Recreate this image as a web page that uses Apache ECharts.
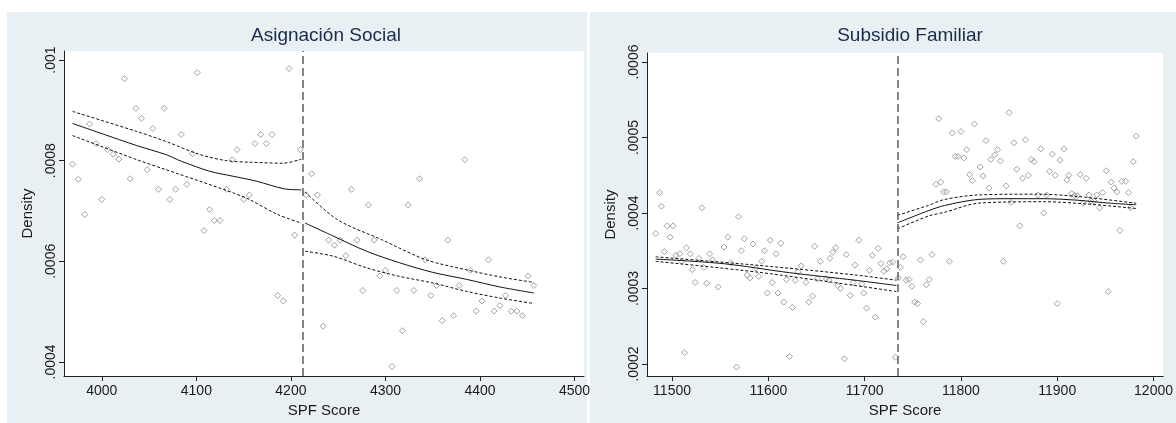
<!DOCTYPE html>
<html><head><meta charset="utf-8">
<script src="https://cdn.jsdelivr.net/npm/echarts@6/dist/echarts.min.js"></script>
<style>html,body{margin:0;padding:0;background:#fff}#c{width:1176px;height:423px}</style>
</head><body><div id="c"></div>
<script>
// ---------- Asignación Social ----------
const asTitle = 'Asignación Social';
const asCutoff = 4213;
const asXTicks = [4000, 4100, 4200, 4300, 4400, 4500];
const asYTicks = [0.0004, 0.0006, 0.0008, 0.001];
const asPoints = [[3969,0.000793],[3975,0.000763],[3982,0.000693],[3987,0.000873],[3994,0.000834],[4000,0.000723],[4006,0.000822],[4012,0.000813],[4018,0.000803],[4024,0.000963],[4030,0.000764],[4036,0.000904],[4042,0.000884],[4048,0.000782],[4054,0.000864],[4060,0.000743],[4066,0.000904],[4072,0.000723],[4078,0.000743],[4084,0.000852],[4090,0.000753],[4096,0.000814],[4101,0.000975],[4108,0.000661],[4114,0.000703],[4119,0.000681],[4125,0.000681],[4132,0.000743],[4138,0.000802],[4143,0.000822],[4150,0.000723],[4156,0.000732],[4162,0.000834],[4168,0.000852],[4174,0.000834],[4180,0.000852],[4186,0.000532],[4192,0.000521],[4198,0.000983],[4204,0.000652],[4210,0.000822],
[4216,0.000732],[4222,0.000774],[4228,0.000732],[4234,0.000471],[4240,0.000642],[4246,0.000632],[4252,0.000642],[4258,0.000611],[4264,0.000743],[4270,0.000642],[4276,0.000542],[4282,0.000712],[4288,0.000642],[4294,0.000571],[4300,0.000582],[4307,0.000391],[4312,0.000542],[4318,0.000462],[4324,0.000712],[4330,0.000542],[4336,0.000764],[4342,0.000603],[4348,0.000532],[4354,0.000552],[4360,0.000482],[4366,0.000642],[4372,0.000492],[4378,0.000552],[4384,0.000802],[4390,0.000582],[4396,0.000501],[4402,0.000521],[4409,0.000603],[4415,0.000501],[4421,0.000512],[4427,0.000532],[4433,0.000501],[4439,0.000501],[4445,0.000492],[4451,0.000571],[4457,0.000552]];
const asFitL = [[3969,0.000874],[4037,0.00083],[4068,0.000812],[4084,0.000799],[4114,0.000779],[4139,0.000769],[4164,0.000759],[4193,0.000744],[4211,0.000742]];
const asFitR = [[4215,0.000676],[4245,0.00065],[4280,0.00062],[4315,0.000597],[4350,0.000578],[4386,0.000564],[4421,0.000549],[4457,0.000537]];
const asUpL = [[3969,0.000898],[4037,0.000858],[4068,0.000838],[4104,0.000812],[4132,0.0008],[4156,0.000797],[4192,0.000795],[4211,0.000803]];
const asUpR = [[4215,0.000738],[4249,0.000683],[4296,0.000643],[4343,0.000603],[4386,0.000583],[4421,0.000569],[4457,0.000558]];
const asLoL = [[3969,0.00085],[4037,0.000802],[4068,0.000782],[4104,0.000759],[4139,0.000736],[4156,0.000723],[4186,0.000693],[4211,0.000676]];
const asLoR = [[4215,0.00062],[4245,0.00061],[4280,0.000587],[4315,0.00057],[4350,0.000557],[4386,0.00054],[4421,0.000527],[4457,0.000516]];

// ---------- Subsidio Familiar ----------
const sfTitle = 'Subsidio Familiar';
const sfCutoff = 11734;
const sfXTicks = [11500, 11600, 11700, 11800, 11900, 12000];
const sfYTicks = [0.0002, 0.0003, 0.0004, 0.0005, 0.0006];
const sfPoints = [[11483,0.000373],[11487,0.000427],[11489,0.000409],[11492,0.000349],[11495,0.000383],[11498,0.000368],[11501,0.000383],[11504,0.000344],[11508,0.000346],[11510,0.000336],[11513,0.000215],[11515,0.000354],[11519,0.000346],[11521,0.000325],[11524,0.000308],[11528,0.00034],[11531,0.000407],[11533,0.000328],[11536,0.000307],[11539,0.000346],[11542,0.000338],[11548,0.000302],[11554,0.000355],[11558,0.000368],[11561,0.000334],[11567,0.000196],[11569,0.000395],[11572,0.00035],[11575,0.000366],[11578,0.000318],[11581,0.000314],[11584,0.000359],[11587,0.000327],[11590,0.000316],[11593,0.000336],[11596,0.00035],[11599,0.000294],[11602,0.000364],[11604,0.000308],[11608,0.000346],[11610,0.000294],[11613,0.00036],[11616,0.000282],[11619,0.000312],[11622,0.00021],[11625,0.000275],[11628,0.000311],[11631,0.000322],[11634,0.00033],[11639,0.000308],[11642,0.000282],[11646,0.00029],[11648,0.000356],[11651,0.000313],[11654,0.000336],[11660,0.000313],[11663,0.000311],[11664,0.00034],[11667,0.000348],[11670,0.000354],[11672,0.000304],[11675,0.0003],[11679,0.000207],[11681,0.000345],[11685,0.000291],[11688,0.000308],[11690,0.000331],[11694,0.000364],[11697,0.000306],[11699,0.000294],[11702,0.000274],[11705,0.000324],[11708,0.000344],[11711,0.000262],[11714,0.000353],[11717,0.000333],[11720,0.000323],[11723,0.000326],[11726,0.000334],[11729,0.000335],[11732,0.000209],
[11735,0.000314],[11737,0.000328],[11740,0.000342],[11743,0.000311],[11746,0.000312],[11749,0.000303],[11752,0.000282],[11755,0.00028],[11758,0.000338],[11761,0.000256],[11764,0.000305],[11767,0.000312],[11770,0.000345],[11774,0.000438],[11777,0.000525],[11779,0.000441],[11782,0.000428],[11785,0.000428],[11788,0.000336],[11791,0.000506],[11794,0.000475],[11797,0.000475],[11800,0.000508],[11803,0.000473],[11806,0.000484],[11809,0.000451],[11812,0.000443],[11814,0.000518],[11820,0.000461],[11823,0.000449],[11826,0.000496],[11829,0.000433],[11831,0.000471],[11835,0.000477],[11838,0.000484],[11841,0.000469],[11844,0.000336],[11847,0.000436],[11850,0.000533],[11852,0.000414],[11855,0.000493],[11858,0.000458],[11861,0.000383],[11864,0.000446],[11867,0.000497],[11870,0.00045],[11873,0.000471],[11876,0.000468],[11880,0.000424],[11883,0.000485],[11886,0.0004],[11889,0.000424],[11892,0.000455],[11895,0.000478],[11898,0.00045],[11900,0.00028],[11903,0.00047],[11907,0.000485],[11910,0.000444],[11912,0.00045],[11915,0.000426],[11918,0.000423],[11921,0.000423],[11924,0.000451],[11927,0.000413],[11930,0.000446],[11933,0.000424],[11935,0.000416],[11938,0.000416],[11941,0.000424],[11944,0.000407],[11947,0.000427],[11951,0.000456],[11953,0.000296],[11956,0.000441],[11959,0.000433],[11962,0.000428],[11965,0.000377],[11967,0.000442],[11971,0.000442],[11974,0.000427],[11976,0.000407],[11979,0.000468],[11982,0.000502]];
const sfFitL = [[11483,0.000339],[11553,0.000333],[11622,0.000321],[11690,0.000311],[11733,0.000304]];
const sfUpL = [[11483,0.000342],[11587,0.000331],[11690,0.000318],[11733,0.000311]];
const sfLoL = [[11483,0.000336],[11587,0.000322],[11690,0.000304],[11733,0.000296]];
const sfFitR = [[11734,0.000387],[11766,0.000403],[11783,0.00041],[11818,0.000418],[11852,0.000419],[11886,0.000419],[11921,0.000417],[11955,0.000413],[11982,0.000411]];
const sfUpR = [[11734,0.000397],[11766,0.00041],[11783,0.000418],[11818,0.000424],[11879,0.000425],[11921,0.000422],[11982,0.000413]];
const sfLoR = [[11734,0.000379],[11766,0.000396],[11783,0.000401],[11818,0.000413],[11886,0.000415],[11982,0.000406]];

const FONT = '"Liberation Sans", Arial, sans-serif';
const TXT = '#1a1a1a';
const fmtY = v => String(+v.toFixed(5)).replace(/^0\./, '.');
const fmtX = v => String(v);

function xAxis(idx, min, max, ticks) {
  return {
    type: 'value', gridIndex: idx, min: min, max: max,
    name: 'SPF Score', nameLocation: 'middle', nameGap: 25,
    nameTextStyle: { color: TXT, fontFamily: FONT, fontSize: 15 },
    axisLine: { show: true, lineStyle: { color: '#222', width: 1 } },
    axisTick: { show: true, length: 5, customValues: ticks, lineStyle: { color: '#222' } },
    axisLabel: { customValues: ticks, color: TXT, fontFamily: FONT, fontSize: 14, margin: 8, formatter: fmtX },
    splitLine: { show: false }
  };
}
function yAxis(idx, min, max, ticks) {
  return {
    type: 'value', gridIndex: idx, min: min, max: max,
    name: 'Density', nameLocation: 'middle', nameGap: 29,
    nameTextStyle: { color: TXT, fontFamily: FONT, fontSize: 15 },
    axisLine: { show: true, lineStyle: { color: '#222', width: 1 } },
    axisTick: { show: true, length: 5, customValues: ticks, lineStyle: { color: '#222' } },
    axisLabel: { customValues: ticks, rotate: 90, color: TXT, fontFamily: FONT, fontSize: 14, margin: 6, formatter: fmtY },
    splitLine: { show: false }
  };
}
function gridLines(ticks) {
  return {
    silent: true, symbol: 'none', label: { show: false },
    lineStyle: { color: '#e6eef1', width: 1, type: 'solid' },
    data: ticks.map(t => ({ yAxis: t }))
  };
}
function panelSeries(idx, pts, lines, cutoff, yticks) {
  const s = [];
  s.push({
    type: 'scatter', xAxisIndex: idx, yAxisIndex: idx, data: pts, z: 3,
    symbol: 'diamond', symbolSize: 6,
    itemStyle: { color: 'rgba(0,0,0,0)', borderColor: '#8a8a8a', borderWidth: 1 },
    markLine: gridLines(yticks)
  });
  lines.forEach(l => {
    s.push({
      type: 'line', xAxisIndex: idx, yAxisIndex: idx, data: l.d, showSymbol: false, symbol: 'none',
      smooth: 0.3, z: 4,
      lineStyle: { color: '#111', width: 1, type: l.dash ? [3, 2] : 'solid' }
    });
  });
  s.push({
    type: 'line', xAxisIndex: idx, yAxisIndex: idx, data: [], z: 5,
    markLine: {
      silent: true, symbol: 'none', label: { show: false },
      lineStyle: { color: '#666', width: 1.6, type: [8, 4] },
      data: [{ xAxis: cutoff }]
    }
  });
  return s;
}

const chart = echarts.init(document.getElementById('c'), null, { renderer: 'canvas' });
chart.setOption({
  animation: false,
  backgroundColor: '#ffffff',
  graphic: [
    { type: 'rect', shape: { x: 7, y: 12, width: 580, height: 411 }, style: { fill: '#e9f0f3' }, z: -10 },
    { type: 'rect', shape: { x: 590, y: 12, width: 586, height: 411 }, style: { fill: '#e9f0f3' }, z: -10 }
  ],
  title: [
    { text: asTitle, left: 321, top: 21, textAlign: 'center', textStyle: { color: '#1c2a4a', fontFamily: FONT, fontSize: 19, fontWeight: 'normal' } },
    { text: sfTitle, left: 905, top: 21, textAlign: 'center', textStyle: { color: '#1c2a4a', fontFamily: FONT, fontSize: 19, fontWeight: 'normal' } }
  ],
  grid: [
    { left: 64, top: 51, width: 520, height: 325, show: true, backgroundColor: '#ffffff', borderWidth: 0 },
    { left: 647, top: 53, width: 520, height: 325, show: true, backgroundColor: '#ffffff', borderWidth: 0 }
  ],
  xAxis: [xAxis(0, 3960, 4510, asXTicks), xAxis(1, 11474, 12010, sfXTicks)],
  yAxis: [yAxis(0, 0.000372, 0.001018, asYTicks), yAxis(1, 0.000184, 0.000612, sfYTicks)],
  series: [].concat(
    panelSeries(0, asPoints, [
      { d: asFitL }, { d: asFitR }, { d: asUpL, dash: true }, { d: asUpR, dash: true }, { d: asLoL, dash: true }, { d: asLoR, dash: true }
    ], asCutoff, asYTicks),
    panelSeries(1, sfPoints, [
      { d: sfFitL }, { d: sfFitR }, { d: sfUpL, dash: true }, { d: sfUpR, dash: true }, { d: sfLoL, dash: true }, { d: sfLoR, dash: true }
    ], sfCutoff, sfYTicks)
  )
});
</script></body></html>
